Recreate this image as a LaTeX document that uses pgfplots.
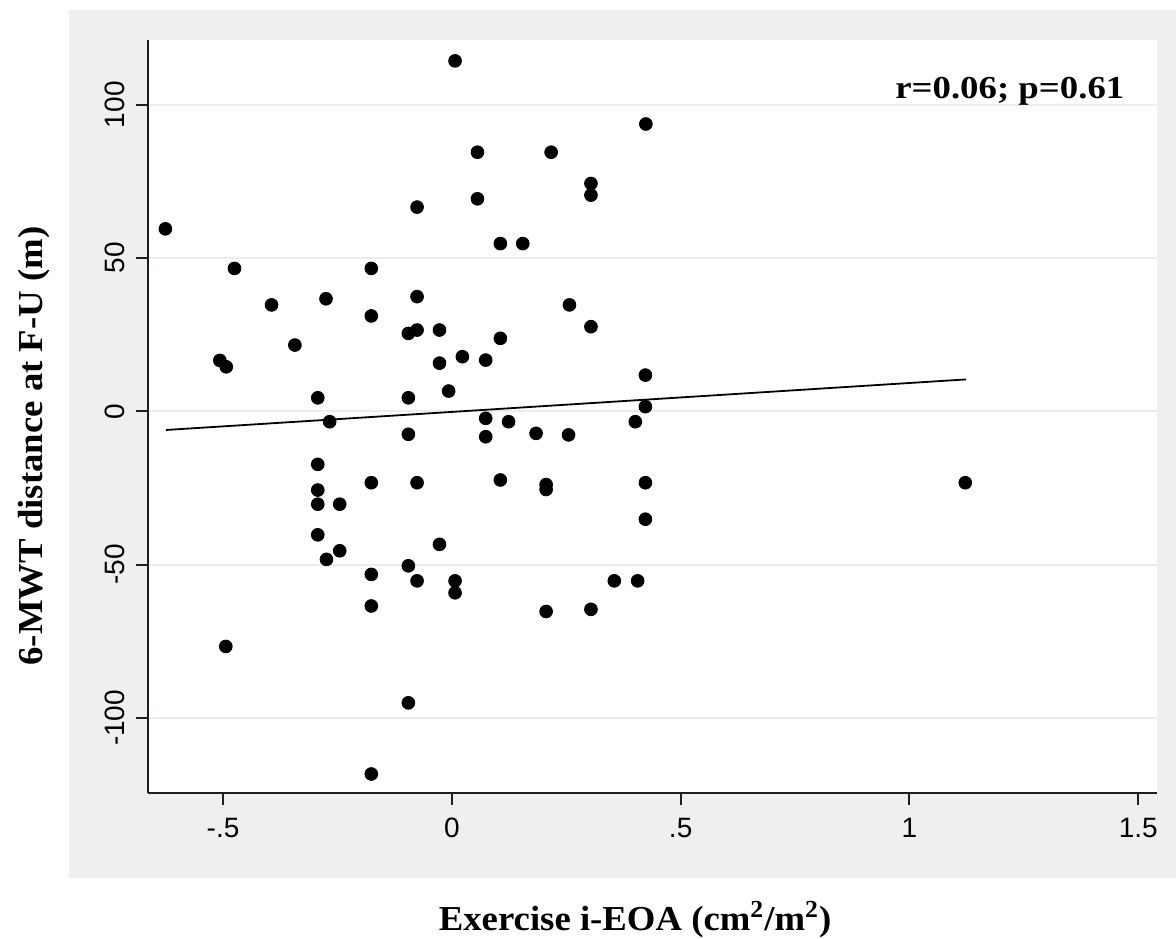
\documentclass[border=0pt]{standalone}
\usepackage{fontspec}
\setmainfont{Liberation Serif}
\setsansfont{Liberation Sans}
\newfontfamily\labelfont[FakeStretch=1.05]{Liberation Serif}
\newfontfamily\notefont[FakeStretch=1.15]{Liberation Serif}
\usepackage{pgfplots}
\pgfplotsset{compat=1.18}
\definecolor{panelgray}{HTML}{EFEFEF}
\definecolor{gridblue}{HTML}{E6EFF2}
\definecolor{axisdark}{HTML}{1E1E1E}

\begin{document}
\begin{tikzpicture}
\path[use as bounding box] (-74pt,-72.35pt) rectangle (514pt,396.65pt);
\fill[panelgray] (-39.5pt,-42.2pt) rectangle (514pt,391.65pt);
\begin{axis}[
  scale only axis, width=504.5pt, height=376.65pt,
  xmin=-0.664, xmax=1.541, ymin=-124.6, ymax=121.1,
  axis background/.style={fill=white},
  axis x line=bottom, axis y line=left,
  axis line style={-, line width=1pt, axisdark},
  tick align=outside, major tick length=5.85pt,
  tick style={line width=1pt, axisdark},
  xtick={-0.5,0,0.5,1,1.5}, xticklabels={-.5,0,.5,1,1.5},
  ytick={-100,-50,0,50,100}, yticklabels={-100,-50,0,50,100},
  ymajorgrids, grid style={gridblue, line width=1pt},
  /pgf/number format/assume math mode=true,
  ticklabel style={font=\sffamily\fontsize{14}{14}\selectfont, inner sep=0pt},
  xticklabel style={anchor=north},
  yticklabel style={rotate=90, anchor=south},
  xticklabel shift=6.45pt, yticklabel shift=5.65pt,
  xlabel={Exercise i-EOA (cm\textsuperscript{2}/m\textsuperscript{2})},
  ylabel={6-MWT distance at F-U (m)},
  label style={font=\labelfont\bfseries\fontsize{17.5}{17.5}\selectfont, inner sep=0pt},
  xlabel style={at={(axis description cs:0.4827,-0.1815)}, anchor=base},
  ylabel style={at={(axis description cs:-0.105,0.461)}, anchor=base},
]
% individual observations
\addplot[only marks, mark=*, mark size=3.2pt, black] table {
x y
-0.626 59.5
-0.475 46.6
-0.507 16.6
-0.493 14.5
-0.394 34.7
-0.343 21.6
-0.275 36.7
-0.293 4.4
-0.267 -3.4
-0.293 -17.3
-0.293 -25.7
-0.293 -30.3
-0.245 -30.3
-0.293 -40.3
-0.245 -45.5
-0.274 -48.3
-0.494 -76.7
-0.176 46.6
-0.176 31.1
-0.176 -23.3
-0.176 -53.2
-0.176 -63.5
-0.176 -118.3
-0.095 25.4
-0.076 26.5
-0.076 37.4
-0.076 66.6
-0.095 4.4
-0.095 -7.5
-0.076 -23.3
-0.095 -50.4
-0.076 -55.3
-0.095 -95.1
-0.027 26.5
-0.027 15.7
-0.007 6.6
-0.027 -43.4
0.023 17.8
0.007 -55.3
0.007 -59.2
0.007 114.3
0.074 16.7
0.074 -2.3
0.074 -8.3
0.056 84.5
0.056 69.3
0.106 23.8
0.106 -22.4
0.106 54.7
0.124 -3.4
0.155 54.7
0.184 -7.2
0.206 -23.9
0.206 -25.5
0.217 84.5
0.206 -65.3
0.257 34.7
0.255 -7.7
0.304 27.6
0.304 74.3
0.304 70.5
0.304 -64.6
0.355 -55.3
0.406 -55.3
0.401 -3.4
0.423 11.8
0.423 1.5
0.423 -23.3
0.423 -35.2
0.424 93.7
1.122 -23.3
};
% fitted regression line
\addplot[black, line width=0.9pt] coordinates {(-0.625,-6.1) (1.124,10.4)};
\node[anchor=base east, inner sep=0pt, font=\notefont\bfseries\fontsize{16}{16}\selectfont]
  at (axis description cs:0.968,0.923) {r=0.06; p=0.61};
\end{axis}
\end{tikzpicture}
\end{document}
